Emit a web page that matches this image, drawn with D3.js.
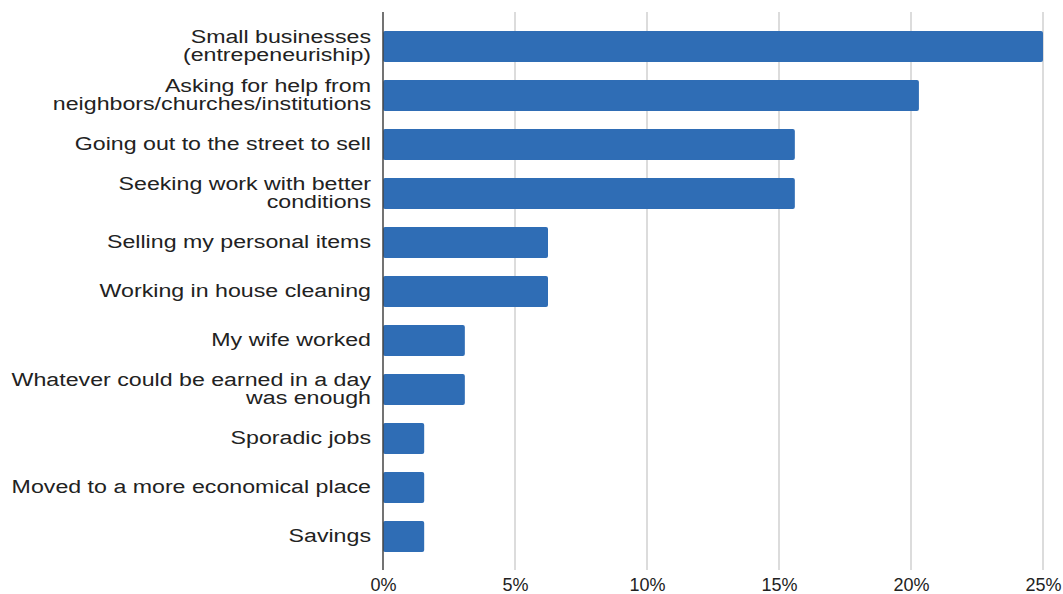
<!DOCTYPE html>
<html>
<head>
<meta charset="utf-8">
<script src="https://cdn.jsdelivr.net/npm/d3@7"></script>
<style>
  html, body { margin: 0; padding: 0; background: #fff; }
  svg { display: block; font-family: "Liberation Sans", Arial, sans-serif; }
</style>
</head>
<body>
<svg id="chart" width="1063" height="594"></svg>
<script>
// Coping strategies, share of respondents
const categories = [
  ["Small businesses", "(entrepeneuriship)"],
  ["Asking for help from", "neighbors/churches/institutions"],
  ["Going out to the street to sell"],
  ["Seeking work with better", "conditions"],
  ["Selling my personal items"],
  ["Working in house cleaning"],
  ["My wife worked"],
  ["Whatever could be earned in a day", "was enough"],
  ["Sporadic jobs"],
  ["Moved to a more economical place"],
  ["Savings"]
];
const values = [25.0, 20.3, 15.6, 15.6, 6.25, 6.25, 3.1, 3.1, 1.56, 1.56, 1.56];
const tickValues = [0, 5, 10, 15, 20, 25];

const svg = d3.select("#chart");
const plotLeft = 383, plotRight = 1043, plotTop = 12, plotBottom = 570;

const x = d3.scaleLinear().domain([0, 25]).range([plotLeft, plotRight]);
const y = d3.scaleBand()
  .domain(d3.range(categories.length))
  .range([22, 561])
  .paddingInner(0.367)
  .paddingOuter(0.1835);

// vertical gridlines
svg.append("g")
  .selectAll("line")
  .data(tickValues.filter(d => d > 0))
  .join("line")
  .attr("x1", d => x(d)).attr("x2", d => x(d))
  .attr("y1", plotTop).attr("y2", plotBottom)
  .attr("stroke", "#dcdcdc")
  .attr("stroke-width", 2);

// bars
svg.append("g")
  .selectAll("rect")
  .data(values)
  .join("rect")
  .attr("x", x(0))
  .attr("y", (d, i) => y(i))
  .attr("width", d => x(d) - x(0))
  .attr("height", y.bandwidth())
  .attr("rx", 2)
  .attr("fill", "#2f6db5");

// baseline axis
svg.append("line")
  .attr("x1", x(0)).attr("x2", x(0))
  .attr("y1", plotTop).attr("y2", plotBottom)
  .attr("stroke", "#444")
  .attr("stroke-width", 1.5);

// x tick labels
const xAxis = d3.axisBottom(x)
  .tickValues(tickValues)
  .tickFormat(d => d + "%")
  .tickSize(0)
  .tickPadding(0);
const gx = svg.append("g")
  .attr("transform", `translate(0,${plotBottom + 8})`)
  .call(xAxis);
gx.select(".domain").remove();
gx.selectAll("text")
  .attr("font-size", 18)
  .attr("font-family", "Liberation Sans, Arial, sans-serif")
  .attr("fill", "#222");

// category labels (wide setting)
const lineH = 18.5;
const labelX = 371;
const labels = svg.append("g")
  .selectAll("text")
  .data(categories)
  .join("text")
  .attr("transform", (d, i) => `translate(${labelX},${y(i) + y.bandwidth() / 2}) scale(1.22,1)`)
  .attr("text-anchor", "end")
  .attr("font-size", 19)
  .attr("fill", "#222");
labels.each(function(lines) {
  const t = d3.select(this);
  const n = lines.length;
  lines.forEach((s, k) => {
    t.append("tspan")
      .attr("x", 0)
      .attr("dy", k === 0 ? ((-(n - 1) / 2) * lineH + 5.5) : lineH)
      .text(s);
  });
});
</script>
</body>
</html>
